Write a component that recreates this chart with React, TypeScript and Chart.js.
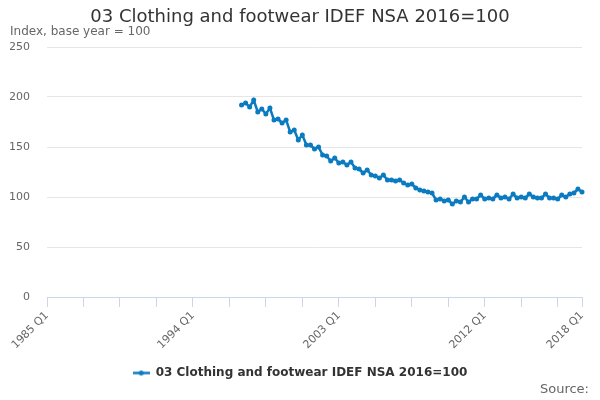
import { useEffect, useRef } from 'react'
import { Chart, ChartConfiguration, registerables } from 'chart.js'

Chart.register(...registerables)

const FONT = '"DejaVu Sans", "Liberation Sans", sans-serif'

// quarterly categories, 1985 Q1 .. 2018 Q1
const firstYear = 1985
const lastYear = 2018
const quarters: string[] = []
for (let y = firstYear; y <= lastYear; y++) {
  for (let q = 1; q <= 4; q++) {
    if (y === lastYear && q > 1) break
    quarters.push(`${y} Q${q}`)
  }
}

const chartTitle = '03 Clothing and footwear IDEF NSA 2016=100'
const axisTitle = 'Index, base year = 100'
const seriesLabel = '03 Clothing and footwear IDEF NSA 2016=100'
const seriesColor = '#0b7bc1'

// series begins in 1997 Q1
const seriesStart = '1997 Q1'
const clothingIndex = [
  192, 194, 190, 197, 185, 188, 183, 189, 177, 178, 174, 177,
  165, 167, 157, 162, 152, 152, 148, 150, 142, 141, 136, 139,
  134, 135, 132, 135, 129, 128, 124, 127, 122, 121, 119, 122,
  117, 117, 116, 117, 114, 112, 113, 109, 107, 106, 105, 104,
  97, 98, 96, 97, 93, 96, 95, 100, 95, 98, 98, 102,
  98, 99, 98, 102, 99, 100, 98, 103, 99, 100, 99, 103,
  100, 99, 99, 103, 99, 99, 98, 102, 100, 103, 104, 108, 105,
]

const tickLabels = ['1985 Q1', '1994 Q1', '2003 Q1', '2012 Q1', '2018 Q1']
const tickMarkEvery = 9
const yMin = 0
const yMax = 250
const yStep = 50

function legendSymbol() {
  const c = document.createElement('canvas')
  c.width = 17
  c.height = 7
  const g = c.getContext('2d')
  if (g) {
    g.strokeStyle = seriesColor
    g.lineWidth = 2.5
    g.beginPath()
    g.moveTo(0, 3.5)
    g.lineTo(17, 3.5)
    g.stroke()
    g.fillStyle = seriesColor
    g.beginPath()
    g.arc(8.5, 3.5, 2.5, 0, Math.PI * 2)
    g.fill()
  }
  return c
}

const sourceNote = {
  id: 'sourceNote',
  afterDraw(chart: Chart) {
    const ctx = chart.ctx
    ctx.save()
    ctx.font = `13px ${FONT}`
    ctx.fillStyle = '#666666'
    ctx.textAlign = 'right'
    ctx.textBaseline = 'middle'
    ctx.fillText('Source:', 589, 390)
    ctx.restore()
  },
}

function ClothingChart() {
  const canvasRef = useRef<HTMLCanvasElement>(null)
  const chartRef = useRef<Chart | null>(null)

  useEffect(() => {
    if (!canvasRef.current) return
    const ctx = canvasRef.current.getContext('2d')
    if (!ctx) return

    if (chartRef.current) {
      chartRef.current.destroy()
    }

    const startIdx = quarters.indexOf(seriesStart)
    const lastIdx = quarters.length - 1

    const config: ChartConfiguration = {
      type: 'line',
      data: {
        labels: quarters,
        datasets: [
          {
            label: seriesLabel,
            data: clothingIndex.map((v, i) => ({ x: quarters[startIdx + i], y: v })) as any,
            borderColor: seriesColor,
            backgroundColor: seriesColor,
            borderWidth: 2.5,
            pointRadius: 2.5,
            pointBorderWidth: 0,
            pointBackgroundColor: seriesColor,
            tension: 0,
            yAxisID: 'y',
          },
        ],
      },
      options: {
        responsive: true,
        maintainAspectRatio: false,
        animation: false,
        layout: { padding: { left: 10, right: 10, top: 0, bottom: 11 } },
        plugins: {
          title: {
            display: true,
            text: chartTitle,
            color: '#333333',
            font: { family: FONT, size: 18, weight: 'normal', lineHeight: 1 },
            padding: { top: 8, bottom: 0 },
          },
          subtitle: {
            display: true,
            text: axisTitle,
            align: 'start',
            color: '#666666',
            font: { family: FONT, size: 12, weight: 'normal', lineHeight: 1 },
            padding: { top: 0, bottom: 9 },
          },
          legend: {
            display: true,
            position: 'bottom',
            labels: {
              color: '#333333',
              font: { family: FONT, size: 12, weight: 'bold' },
              usePointStyle: true,
              pointStyle: legendSymbol() as any,
              pointStyleWidth: 17,
              padding: 10,
            },
          },
          tooltip: { enabled: false },
        },
        scales: {
          x: {
            type: 'category',
            offset: false,
            afterFit: (s: any) => {
              s.height = 60
            },
            border: { display: true, color: '#ccd6eb', width: 1 },
            grid: {
              display: true,
              drawOnChartArea: false,
              drawTicks: true,
              tickLength: 10,
              tickColor: (c: any) =>
                c.index % tickMarkEvery === 0 || c.index === lastIdx ? '#ccd6eb' : 'rgba(0,0,0,0)',
            },
            ticks: {
              autoSkip: false,
              maxRotation: 45,
              minRotation: 45,
              padding: 2,
              color: '#666666',
              font: { family: FONT, size: 11 },
              callback: (_v: any, index: number) =>
                tickLabels.includes(quarters[index]) ? quarters[index] : '',
            },
          },
          y: {
            type: 'linear',
            position: 'left',
            min: yMin,
            max: yMax,
            afterFit: (s: any) => {
              s.width = 37
            },
            border: { display: false },
            grid: { color: '#e6e6e6', lineWidth: 1, drawTicks: false },
            ticks: {
              stepSize: yStep,
              padding: 17,
              color: '#666666',
              font: { family: FONT, size: 11 },
            },
          },
          // empty right-hand strip so the title centres on the full width
          yRight: {
            type: 'linear',
            position: 'right',
            display: true,
            afterFit: (s: any) => {
              s.width = 8
            },
            border: { display: false },
            grid: { display: false, drawTicks: false },
            ticks: { display: false },
          },
        },
      },
      plugins: [sourceNote],
    }

    chartRef.current = new Chart(ctx, config)

    return () => {
      chartRef.current?.destroy()
    }
  }, [])

  return (
    <div style={{ position: 'fixed', left: 0, top: 0, width: 600, height: 400, background: '#ffffff' }}>
      <canvas ref={canvasRef} />
    </div>
  )
}

export default function App() {
  return <ClothingChart />
}
